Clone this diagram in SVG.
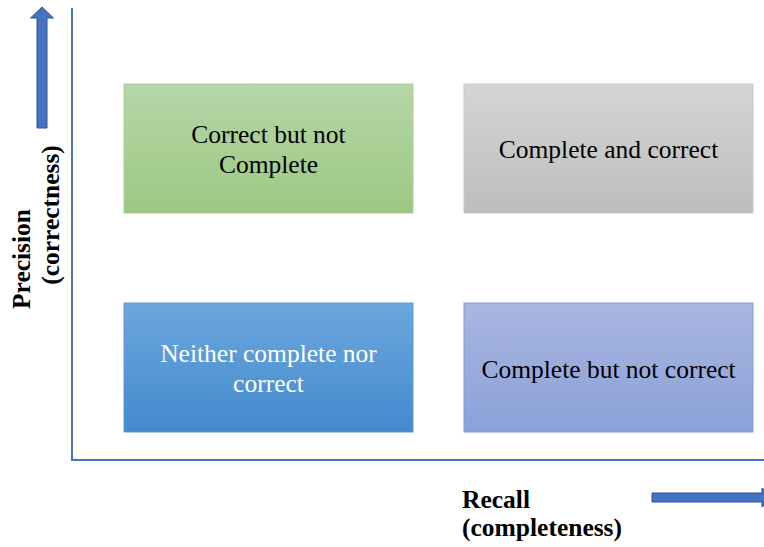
<svg xmlns="http://www.w3.org/2000/svg" width="764" height="547" viewBox="0 0 764 547">
<defs>
<linearGradient id="gGreen" x1="0" y1="0" x2="0" y2="1"><stop offset="0" stop-color="#b6d6a8"/><stop offset="1" stop-color="#9cc883"/></linearGradient>
<linearGradient id="gGrey" x1="0" y1="0" x2="0" y2="1"><stop offset="0" stop-color="#d5d5d5"/><stop offset="1" stop-color="#bdbdbd"/></linearGradient>
<linearGradient id="gBlue" x1="0" y1="0" x2="0" y2="1"><stop offset="0" stop-color="#6ca7de"/><stop offset="1" stop-color="#438acd"/></linearGradient>
<linearGradient id="gPurple" x1="0" y1="0" x2="0" y2="1"><stop offset="0" stop-color="#a9b6e1"/><stop offset="1" stop-color="#8aa1d8"/></linearGradient>
<style>
.box{stroke-width:1}
.t{font-family:"Liberation Serif","Times New Roman",serif;font-size:25.5px;text-anchor:middle;fill:#000}
.w{fill:#fff}
.lab{font-family:"Liberation Serif","Times New Roman",serif;font-size:25.5px;font-weight:bold;fill:#000}
.axis{stroke:#4472c4;stroke-width:2;fill:none}
.arr{fill:#4472c4;stroke:#2f528f;stroke-width:1}
</style>
</defs>
<rect width="764" height="547" fill="#fff"/>
<g id="connectors">
<line class="axis" x1="72" y1="8" x2="72" y2="460"/>
<line class="axis" x1="71" y1="460" x2="764" y2="460"/>
<path class="arr" d="M37,128 L37,18 L30.5,18 L42,7 L53.5,18 L47,18 L47,128 Z"/>
<path class="arr" d="M652,493 L762,493 L762,488 L773,497.5 L762,507 L762,502 L652,502 Z"/>
</g>
<g id="node-green">
<rect class="box" x="124" y="84" width="289" height="129" fill="url(#gGreen)" stroke="#a9d08e"/>
<text class="t" x="268.5" y="142.5">Correct but not</text>
<text class="t" x="268.5" y="172.5">Complete</text>
</g>
<g id="node-grey">
<rect class="box" x="464" y="84" width="289" height="129" fill="url(#gGrey)" stroke="#c9c9c9"/>
<text class="t" x="608.5" y="158">Complete and correct</text>
</g>
<g id="node-blue">
<rect class="box" x="124" y="303" width="289" height="129" fill="url(#gBlue)" stroke="#5b9bd5"/>
<text class="t w" x="268.5" y="362">Neither complete nor</text>
<text class="t w" x="268.5" y="392">correct</text>
</g>
<g id="node-purple">
<rect class="box" x="464" y="303" width="289" height="129" fill="url(#gPurple)" stroke="#7f9bd8"/>
<text class="t" x="608.5" y="377.5">Complete but not correct</text>
</g>
<g id="label-precision">
<text class="lab" text-anchor="middle" transform="translate(30,259) rotate(-90)">Precision</text>
<text class="lab" text-anchor="middle" transform="translate(59,215) rotate(-90)">(correctness)</text>
</g>
<g id="label-recall">
<text class="lab" x="462" y="508">Recall</text>
<text class="lab" x="462" y="536">(completeness)</text>
</g>
</svg>
